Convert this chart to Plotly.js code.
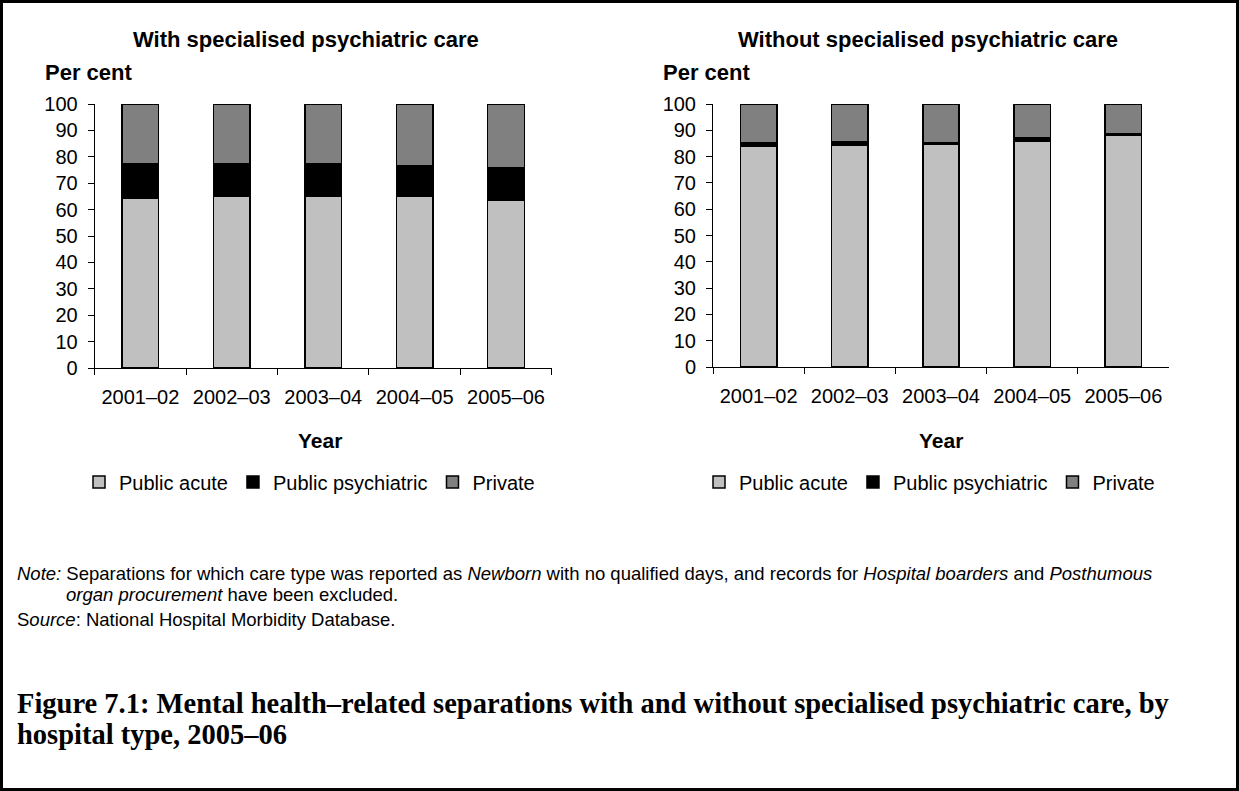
<!DOCTYPE html>
<html>
<head>
<meta charset="utf-8">
<script src="https://cdn.plot.ly/plotly-3.0.1.min.js"></script>
<style>
html,body{margin:0;padding:0;background:#fff;}
#chart{width:1239px;height:791px;}
</style>
</head>
<body>
<div id="chart"></div>
<script>
const years = ['2001–02', '2002–03', '2003–04', '2004–05', '2005–06'];
const seriesNames = ['Public acute', 'Public psychiatric', 'Private'];
const withAcute = [64.4, 65.1, 65.1, 65.1, 63.6];
const withPsych = [12.9, 12.2, 12.2, 11.4, 12.2];
const withPrivate = [22.7, 22.7, 22.7, 23.5, 24.2];
const withoutAcute = [83.8, 84.4, 84.6, 86.0, 88.1];
const withoutPsych = [1.3, 1.3, 0.6, 1.3, 0.7];
const withoutPrivate = [14.9, 14.3, 14.8, 12.7, 11.2];
const yTicks = [0, 10, 20, 30, 40, 50, 60, 70, 80, 90, 100];

const colors = ['#C0C0C0', '#000000', '#808080'];
const W = 1239, H = 791;
const px = v => v / W;
const py = v => 1 - v / H;
const SANS = 'Liberation Sans, Arial, sans-serif';
const SERIF = 'Liberation Serif, serif';

function mk(y, i, xa, ya, leg) {
  return {
    type: 'bar', x: years, y: y, name: seriesNames[i],
    xaxis: xa, yaxis: ya, legend: leg,
    marker: {color: colors[i], line: {color: '#000', width: 1.5}},
    hoverinfo: 'x+y+name'
  };
}

const data = [
  mk(withAcute, 0, 'x', 'y', 'legend'),
  mk(withPsych, 1, 'x', 'y', 'legend'),
  mk(withPrivate, 2, 'x', 'y', 'legend'),
  mk(withoutAcute, 0, 'x2', 'y2', 'legend2'),
  mk(withoutPsych, 1, 'x2', 'y2', 'legend2'),
  mk(withoutPrivate, 2, 'x2', 'y2', 'legend2')
];

const xaxisBase = {
  type: 'category', showgrid: false, zeroline: false,
  showline: true, linecolor: '#000', linewidth: 1,
  ticks: 'outside', tickson: 'boundaries', ticklen: 6, tickcolor: '#000',
  tickfont: {family: SANS, size: 20, color: '#000'},
  ticklabelstandoff: 11, fixedrange: true
};
const yaxisBase = {
  range: [0, 100], tickvals: yTicks, showgrid: false, zeroline: false,
  showline: true, linecolor: '#000', linewidth: 1,
  ticks: 'outside', ticklen: 6, tickcolor: '#000',
  tickfont: {family: SANS, size: 20, color: '#000'},
  ticklabelstandoff: 6, fixedrange: true
};

const ann = (x, y, text, size, family, opts) => Object.assign({
  xref: 'paper', yref: 'paper', x: px(x), y: py(y), text: text,
  showarrow: false, xanchor: 'left', yanchor: 'middle',
  font: {family: family || SANS, size: size, color: '#000'}
}, opts || {});

const legendBase = {
  orientation: 'h', xanchor: 'left', yanchor: 'middle',
  font: {family: SANS, size: 20, color: '#000'}, traceorder: 'normal',
  bgcolor: 'rgba(0,0,0,0)', borderwidth: 0
};

const layout = {
  width: W, height: H,
  margin: {l: 0, r: 0, t: 0, b: 0},
  paper_bgcolor: '#fff', plot_bgcolor: '#fff',
  barmode: 'stack', bargap: 0.6,
  showlegend: true,
  xaxis: Object.assign({}, xaxisBase, {domain: [px(94.7), px(551.7)], anchor: 'y'}),
  yaxis: Object.assign({}, yaxisBase, {domain: [py(368), py(104)], anchor: 'x'}),
  xaxis2: Object.assign({}, xaxisBase, {domain: [px(713), px(1169)], anchor: 'y2'}),
  yaxis2: Object.assign({}, yaxisBase, {domain: [py(367), py(104)], anchor: 'x2'}),
  legend: Object.assign({}, legendBase, {x: px(79), y: py(482)}),
  legend2: Object.assign({}, legendBase, {x: px(699), y: py(482)}),
  annotations: [
    ann(306, 39, '<b>With specialised psychiatric care</b>', 22, SANS, {xanchor: 'center'}),
    ann(928, 39, '<b>Without specialised psychiatric care</b>', 22, SANS, {xanchor: 'center'}),
    ann(43, 72, '<b>Per cent</b>', 22),
    ann(661, 72, '<b>Per cent</b>', 22),
    ann(320, 440, '<b>Year</b>', 21, SANS, {xanchor: 'center'}),
    ann(941, 440, '<b>Year</b>', 21, SANS, {xanchor: 'center'}),
    ann(15, 573, '<i>Note:</i> Separations for which care type was reported as <i>Newborn</i> with no qualified days, and records for <i>Hospital boarders</i> and <i>Posthumous</i>', 18.5),
    ann(64, 594, '<i>organ procurement</i> have been excluded.', 18.5),
    ann(15, 619, 'S<i>ource</i>: National Hospital Morbidity Database.', 18.5),
    ann(15, 703, '<b>Figure 7.1: Mental health–related separations with and without specialised psychiatric care, by</b>', 28.5, SERIF),
    ann(15, 734, '<b>hospital type, 2005–06</b>', 28.5, SERIF)
  ],
  shapes: [
    {type: 'rect', xref: 'paper', yref: 'paper', x0: px(1.5), x1: px(1237.5), y0: py(789.5), y1: py(1.5),
     line: {color: '#000', width: 3}, fillcolor: 'rgba(0,0,0,0)'}
  ]
};

Plotly.newPlot('chart', data, layout, {displayModeBar: false, staticPlot: true});
</script>
</body>
</html>
